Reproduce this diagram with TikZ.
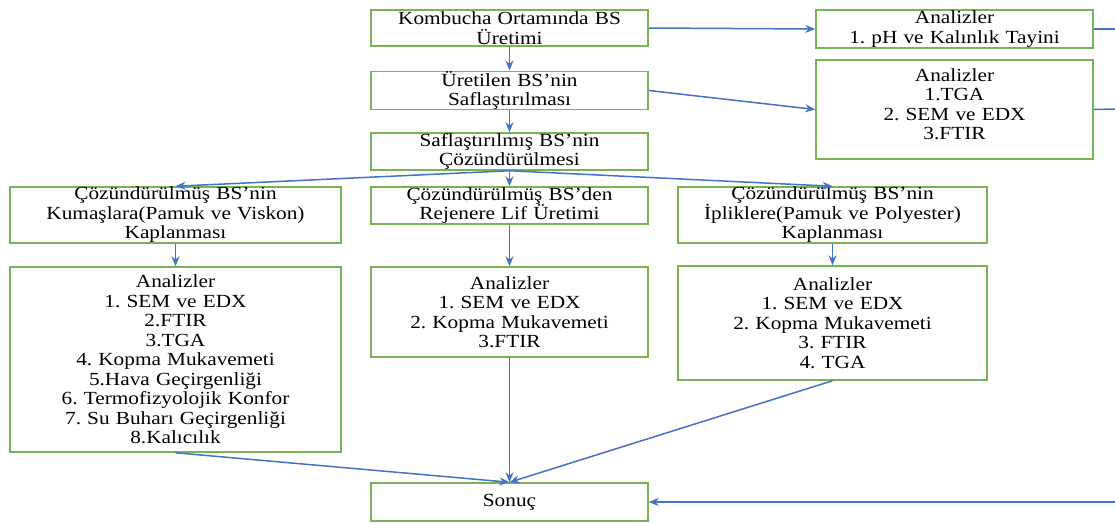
\documentclass[tikz,border=0pt]{standalone}
\usepackage{fontspec}
\setmainfont{Liberation Serif}[FakeStretch=1.15]
\usetikzlibrary{arrows.meta}
\definecolor{kutuyesil}{HTML}{78B452}
\definecolor{okmavi}{HTML}{4472C4}
\frenchspacing
\begin{document}
\begin{tikzpicture}[x=1pt, y=-1pt,
        kutu/.style={draw=kutuyesil, line width=1.5pt, align=center, inner xsep=2pt, inner ysep=0pt,
            font=\fontsize{18.5}{19.5}\selectfont},
        ok/.style={-{Stealth[length=10pt, width=8pt]}, draw=okmavi, line width=1.5pt}]
    \useasboundingbox (0, 0) rectangle (1115, 522);

    % ust sira
    \node[kutu, minimum width=277, minimum height=36, text width=270] (uretim) at (509.5, 28)
        {Kombucha Ortamında BS\\Üretimi};
    \node[kutu, minimum width=277, minimum height=37, text width=270] (saflastirma) at (509.5, 90.5)
        {Üretilen BS’nin\\Saflaştırılması};
    \node[kutu, minimum width=277, minimum height=37, text width=270] (cozme) at (509.5, 151.5)
        {Saflaştırılmış BS’nin\\Çözündürülmesi};

    % sag analizler
    \node[kutu, minimum width=277, minimum height=38, text width=270] (analiz1) at (954.5, 29)
        {Analizler\\1. pH ve Kalınlık Tayini};
    \node[kutu, minimum width=277, text width=270, text height=21, text depth=78] (analiz2) at (954.5, 109.5)
        {Analizler\\1.TGA\\2. SEM ve EDX\\3.FTIR};

    % uc yol
    \node[kutu, minimum width=331, minimum height=56, text width=324] (kumas) at (175.5, 215)
        {Çözündürülmüş BS’nin\\Kumaşlara(Pamuk ve Viskon)\\Kaplanması};
    \node[kutu, minimum width=277, minimum height=37, text width=270] (lif) at (509.5, 205.5)
        {Çözündürülmüş BS’den\\Rejenere Lif Üretimi};
    \node[kutu, minimum width=309, minimum height=56, text width=302] (iplik) at (832.5, 215)
        {Çözündürülmüş BS’nin\\İpliklere(Pamuk ve Polyester)\\Kaplanması};

    % alt analizler
    \node[kutu, minimum width=331, minimum height=185, text width=324] (kumasanaliz) at (175.5, 359.5)
        {Analizler\\1. SEM ve EDX\\2.FTIR\\3.TGA\\4. Kopma Mukavemeti\\5.Hava Geçirgenliği\\
         6. Termofizyolojik Konfor\\7. Su Buharı Geçirgenliği\\8.Kalıcılık};
    \node[kutu, minimum width=277, minimum height=90, text width=270] (lifanaliz) at (509.5, 312)
        {Analizler\\1. SEM ve EDX\\2. Kopma Mukavemeti\\3.FTIR};
    \node[kutu, minimum width=309, minimum height=114, text width=302] (iplikanaliz) at (832.5, 323)
        {Analizler\\1. SEM ve EDX\\2. Kopma Mukavemeti\\3. FTIR\\4. TGA};

    % sonuc
    \node[kutu, minimum width=277, minimum height=38, text width=270] (sonuc) at (509.5, 502) {Sonuç};

    % sag kenar
    \coordinate (sag1) at (1115, 29);
    \coordinate (sag2) at (1115, 109);
    \coordinate (sag3) at (1115, 502);

    % oklar
    \draw[ok] (uretim) -- (saflastirma);
    \draw[ok] (saflastirma) -- (cozme);
    \draw[ok] (uretim.east) -- (analiz1.west);
    \draw[ok] (saflastirma.east) -- (analiz2.west);
    \foreach \Hedef in {kumas, lif, iplik} {
        \draw[ok] (cozme.south) -- (\Hedef.north);
    }
    \draw[ok] (kumas) -- (kumasanaliz);
    \draw[ok] (lif) -- (lifanaliz);
    \draw[ok] (iplik) -- (iplikanaliz);
    \foreach \Kaynak in {kumasanaliz, lifanaliz, iplikanaliz} {
        \draw[ok] (\Kaynak.south) -- (sonuc.north);
    }
    \draw[okmavi, line width=1.5pt] (analiz1.east) -- (sag1);
    \draw[okmavi, line width=1.5pt] (analiz2.east) -- (sag2);
    \draw[ok] (sag3) -- (sonuc.east);
\end{tikzpicture}
\end{document}
